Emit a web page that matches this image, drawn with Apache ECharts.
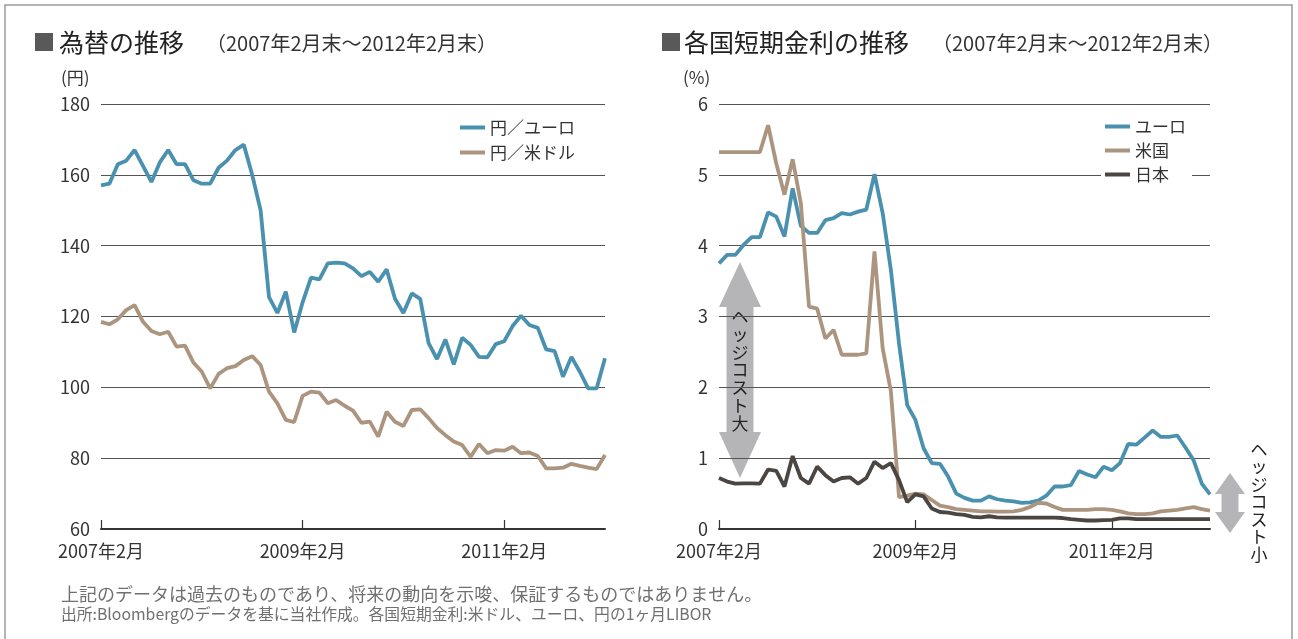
<!DOCTYPE html>
<html lang="ja">
<head>
<meta charset="utf-8">
<title>為替の推移 / 各国短期金利の推移</title>
<script src="https://cdn.jsdelivr.net/npm/echarts@6/dist/echarts.min.js"></script>
<style>
  html, body { margin: 0; padding: 0; background: #fff; }
  #chart { width: 1298px; height: 639px; }
</style>
</head>
<body>
<div id="chart"></div>
<script>
'use strict';

// 月末値 2007年2月〜2012年2月 (61点)
const tickLabels = ['2007年2月', '2009年2月', '2011年2月'];

const eurJpy = [157, 157.5, 163, 164, 167, 162.5, 158, 163.5, 167, 163, 163, 158.5, 157.5, 157.5, 162, 164,
  167, 168.5, 160, 150, 125.5, 121, 127, 115.5, 124, 131, 130.5, 135, 135.2, 135, 133.6, 131.4, 132.6, 129.8,
  133.3, 125, 121, 126.5, 125, 112.5, 108, 113.5, 106.5, 114, 112, 108.6, 108.5, 112.2, 113, 117.3, 120.2,
  117.6, 116.8, 110.7, 110.2, 103, 108.6, 104.4, 99.7, 99.7, 108.2];

const usdJpy = [118.5, 117.8, 119.2, 121.8, 123.2, 118.5, 115.9, 115, 115.7, 111.5, 111.8, 107, 104.4, 99.7,
  103.8, 105.4, 106, 107.7, 108.8, 106.3, 98.8, 95.5, 90.8, 90.2, 97.6, 98.8, 98.5, 95.5, 96.4, 94.8, 93.4, 90,
  90.3, 86.1, 93.1, 90.3, 89.1, 93.6, 93.8, 91.3, 88.5, 86.5, 84.7, 83.7, 80.4, 84, 81.4, 82.3, 82.1, 83.2, 81.4,
  81.6, 80.6, 77.1, 77.1, 77.3, 78.4, 77.8, 77.3, 76.9, 80.9];

const euroRate = [3.75, 3.87, 3.87, 4.01, 4.12, 4.12, 4.47, 4.41, 4.13, 4.81, 4.28, 4.18, 4.18, 4.36, 4.39,
  4.46, 4.44, 4.48, 4.51, 5.01, 4.46, 3.66, 2.62, 1.75, 1.54, 1.14, 0.93, 0.92, 0.74, 0.5, 0.44, 0.4, 0.4, 0.46,
  0.42, 0.4, 0.39, 0.37, 0.375, 0.4, 0.47, 0.6, 0.6, 0.62, 0.82, 0.77, 0.73, 0.88, 0.83, 0.93, 1.2, 1.19, 1.29,
  1.39, 1.3, 1.3, 1.32, 1.15, 0.97, 0.64, 0.49];

const usRate = [5.32, 5.32, 5.32, 5.32, 5.32, 5.32, 5.7, 5.16, 4.72, 5.22, 4.6, 3.14, 3.11, 2.69, 2.81, 2.46,
  2.46, 2.46, 2.48, 3.92, 2.55, 1.95, 0.45, 0.47, 0.5, 0.49, 0.41, 0.33, 0.31, 0.28, 0.27, 0.26, 0.25, 0.25,
  0.245, 0.245, 0.25, 0.27, 0.31, 0.37, 0.36, 0.31, 0.27, 0.27, 0.27, 0.27, 0.28, 0.28, 0.27, 0.25, 0.22, 0.21,
  0.21, 0.22, 0.25, 0.26, 0.27, 0.29, 0.31, 0.28, 0.26];

const jpRate = [0.72, 0.67, 0.64, 0.645, 0.645, 0.64, 0.84, 0.82, 0.6, 1.03, 0.72, 0.64, 0.88, 0.76, 0.67, 0.72,
  0.73, 0.64, 0.72, 0.95, 0.86, 0.93, 0.69, 0.38, 0.49, 0.46, 0.29, 0.24, 0.23, 0.21, 0.2, 0.17, 0.165, 0.18,
  0.165, 0.16, 0.16, 0.16, 0.16, 0.16, 0.16, 0.16, 0.155, 0.14, 0.13, 0.12, 0.12, 0.125, 0.13, 0.15, 0.15, 0.14,
  0.14, 0.14, 0.14, 0.14, 0.14, 0.14, 0.14, 0.14, 0.14];

const months = [];
for (let y = 2007, m = 2; months.length < eurJpy.length; m++) {
  if (m > 12) { m = 1; y++; }
  months.push(y + '年' + m + '月');
}

const FONT = '"Noto Sans CJK JP", "Noto Sans", sans-serif';
const TEXT = '#333';
const BLUE = '#4a91af';
const BROWN = '#ac957e';
const DARK = '#4b4641';
const ARROW = '#b5b5b8';

const showTick = function(index, value) {
  return tickLabels.indexOf(value) !== -1;
};

const xAxisFor = function(gridIndex) {
  return {
    type: 'category',
    gridIndex: gridIndex,
    data: months,
    boundaryGap: false,
    axisLine: { lineStyle: { color: '#333', width: 2 } },
    axisTick: { inside: true, length: 9, interval: showTick, lineStyle: { color: '#333', width: 1.2 } },
    axisLabel: { interval: showTick, fontSize: 18, color: TEXT, fontFamily: FONT, margin: 13 },
    splitLine: { show: false }
  };
};

const yAxisFor = function(gridIndex, min, max, interval) {
  return {
    type: 'value',
    gridIndex: gridIndex,
    min: min,
    max: max,
    interval: interval,
    axisLine: { show: false },
    axisTick: { show: false },
    axisLabel: { fontSize: 18, color: TEXT, fontFamily: FONT, margin: 11 },
    splitLine: { lineStyle: { color: '#555', width: 1.2 } }
  };
};

const lineSeries = function(name, data, color, axisIndex) {
  return {
    type: 'line',
    name: name,
    data: data,
    xAxisIndex: axisIndex,
    yAxisIndex: axisIndex,
    symbol: 'none',
    lineStyle: { color: color, width: 3.8 },
    itemStyle: { color: color },
    animation: false
  };
};

const legendText = { fontSize: 17, color: TEXT, fontFamily: FONT };

const verticalText = function(str) {
  return str.split('').join('\n');
};

const chart = echarts.init(document.getElementById('chart'));

chart.setOption({
  backgroundColor: '#fff',
  animation: false,
  grid: [
    { left: 101, top: 104, width: 504, height: 425 },
    { left: 719, top: 104, width: 491, height: 425 }
  ],
  xAxis: [xAxisFor(0), xAxisFor(1)],
  yAxis: [yAxisFor(0, 60, 180, 20), yAxisFor(1, 0, 6, 1)],
  legend: [
    {
      data: ['円／ユーロ', '円／米ドル'],
      orient: 'vertical',
      left: 460, top: 119,
      padding: 0,
      itemWidth: 25, itemHeight: 4, itemGap: 8,
      icon: 'rect',
      textStyle: legendText
    },
    {
      data: ['ユーロ', '米国', '日本'],
      orient: 'vertical',
      left: 1101, top: 116,
      padding: [2, 6, 2, 4],
      backgroundColor: '#fff',
      itemWidth: 25, itemHeight: 4, itemGap: 7,
      icon: 'rect',
      textStyle: legendText
    }
  ],
  series: [
    lineSeries('円／ユーロ', eurJpy, BLUE, 0),
    lineSeries('円／米ドル', usdJpy, BROWN, 0),
    lineSeries('ユーロ', euroRate, BLUE, 1),
    lineSeries('米国', usRate, BROWN, 1),
    lineSeries('日本', jpRate, DARK, 1)
  ],
  graphic: [
    // 外枠
    { type: 'rect', shape: { x: 5, y: 5, width: 1287, height: 650 }, style: { fill: 'none', stroke: '#9a9a9a', lineWidth: 1.5 }, silent: true },

    // 見出し
    { type: 'rect', shape: { x: 35, y: 33, width: 18, height: 18 }, style: { fill: '#595959' } },
    { type: 'text', x: 59, y: 42, style: { text: '為替の推移', font: '25px ' + FONT, fill: '#222', verticalAlign: 'middle' } },
    { type: 'text', x: 206, y: 43, style: { text: '（2007年2月末～2012年2月末）', font: '20px ' + FONT, fill: TEXT, verticalAlign: 'middle' } },
    { type: 'rect', shape: { x: 662, y: 33, width: 18, height: 18 }, style: { fill: '#595959' } },
    { type: 'text', x: 684, y: 42, style: { text: '各国短期金利の推移', font: '25px ' + FONT, fill: '#222', verticalAlign: 'middle' } },
    { type: 'text', x: 932, y: 43, style: { text: '（2007年2月末～2012年2月末）', font: '20px ' + FONT, fill: TEXT, verticalAlign: 'middle' } },

    // 単位
    { type: 'text', x: 61, y: 78, style: { text: '(円)', font: '17px ' + FONT, fill: TEXT, verticalAlign: 'middle' } },
    { type: 'text', x: 683, y: 78, style: { text: '(%)', font: '17px ' + FONT, fill: TEXT, verticalAlign: 'middle' } },

    // ヘッジコスト大
    {
      type: 'polygon',
      shape: { points: [[740, 262], [761, 307], [753.5, 307], [753.5, 432], [761, 432], [740, 478],
        [719, 432], [726.5, 432], [726.5, 307], [719, 307]] },
      style: { fill: ARROW }
    },
    { type: 'text', x: 740, y: 370, style: { text: verticalText('ヘッジコスト大'), font: '17px ' + FONT, lineHeight: 17.7, fill: '#222', align: 'center', verticalAlign: 'middle' } },

    // ヘッジコスト小
    {
      type: 'polygon',
      shape: { points: [[1230, 473], [1245, 494], [1238.5, 494], [1238.5, 512], [1245, 512], [1230, 533],
        [1215, 512], [1221.5, 512], [1221.5, 494], [1215, 494]] },
      style: { fill: ARROW }
    },
    { type: 'text', x: 1259, y: 502, style: { text: verticalText('ヘッジコスト小'), font: '17px ' + FONT, lineHeight: 17.5, fill: '#222', align: 'center', verticalAlign: 'middle' } },

    // 注記
    { type: 'text', x: 61, y: 594, style: { text: '上記のデータは過去のものであり、将来の動向を示唆、保証するものではありません。', font: '18px ' + FONT, fill: '#707070', verticalAlign: 'middle' } },
    { type: 'text', x: 61, y: 614, style: { text: '出所:Bloombergのデータを基に当社作成。各国短期金利:米ドル、ユーロ、円の1ヶ月LIBOR', font: '15.8px ' + FONT, fill: '#707070', verticalAlign: 'middle' } }
  ]
});
</script>
</body>
</html>
